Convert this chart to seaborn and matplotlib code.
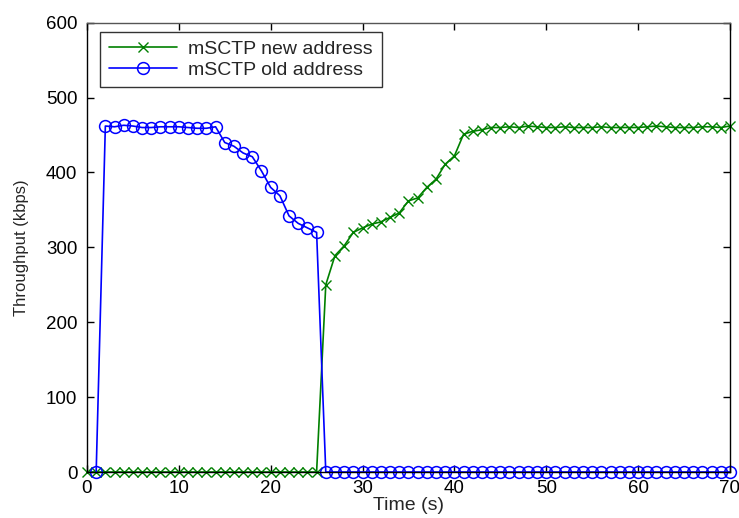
import numpy as np
import pandas as pd
import matplotlib
matplotlib.use("Agg")
import matplotlib.pyplot as plt
import seaborn as sns

# Throughput of the new address path (one sample per second, t = 0..70)
new_time = list(range(0, 71))
new_kbps = ([0] * 26 +
            [250, 289, 302, 320, 326, 331, 334, 340, 346, 362,
             366, 380, 391, 411, 422, 451, 455, 457, 460,
             460, 461, 460, 462, 461, 460, 460, 461, 460, 460,
             460, 461, 460, 460, 460, 460, 461, 462, 461, 460,
             460, 460, 461, 461, 460, 462])

# Throughput of the old address path (t = 1..70)
old_time = list(range(1, 71))
old_kbps = ([0,
             462, 461, 463, 462, 460, 460, 461, 461, 461, 460, 459, 459, 461,
             440, 435, 426, 421, 402, 380, 369, 342, 332, 326, 320] +
            [0] * 45)

x_ticks = [0, 10, 20, 30, 40, 50, 60, 70]
y_ticks = [0, 100, 200, 300, 400, 500, 600]

sns.set_theme(style="white")
plt.rcParams["font.family"] = ["Liberation Sans", "DejaVu Sans"]

df_new = pd.DataFrame({"Time": new_time, "Throughput": new_kbps})
df_old = pd.DataFrame({"Time": old_time, "Throughput": old_kbps})

fig = plt.figure(figsize=(7.39, 5.18), dpi=100)
ax = fig.add_axes([0.1177, 0.0888, 0.8700, 0.8674])

green = (0.0, 0.5, 0.0)
blue = (0.0, 0.0, 1.0)

sns.lineplot(data=df_new, x="Time", y="Throughput", ax=ax, color=green,
             marker="x", markersize=6.5, markeredgecolor=green,
             markeredgewidth=1.0, linewidth=1.2, clip_on=False,
             label="mSCTP new address")
sns.lineplot(data=df_old, x="Time", y="Throughput", ax=ax, color=blue,
             marker="o", markersize=8.5, markerfacecolor="none",
             markeredgecolor=blue, markeredgewidth=1.1, linewidth=1.2,
             clip_on=False, label="mSCTP old address")

ax.set_xlim(0, 70)
ax.set_ylim(0, 600)
ax.set_xticks(x_ticks)
ax.set_yticks(y_ticks)
ax.set_xlabel("Time (s)", fontsize=14, labelpad=0)
ax.set_ylabel("Throughput (kbps)", fontsize=12, labelpad=12)
ax.tick_params(axis="both", which="both", direction="in", length=5,
               width=1, colors="black", labelsize=13.5, top=True, right=True,
               bottom=True, left=True)
ax.tick_params(axis="x", pad=6)
ax.tick_params(axis="y", pad=7)
for side in ["left", "right", "top", "bottom"]:
    ax.spines[side].set_visible(True)
    ax.spines[side].set_color("black")
    ax.spines[side].set_linewidth(1.0)
ax.spines["top"].set_color("#555555")
ax.grid(False)

leg = ax.legend(loc="upper left", bbox_to_anchor=(0.02, 0.98),
                borderaxespad=0, fontsize=14, frameon=True, fancybox=False,
                handlelength=3.5, handletextpad=0.6, labelspacing=0.15,
                borderpad=0.45, edgecolor="black")
leg.get_frame().set_linewidth(1.0)

fig.savefig("out.png", dpi=100, facecolor="white")
